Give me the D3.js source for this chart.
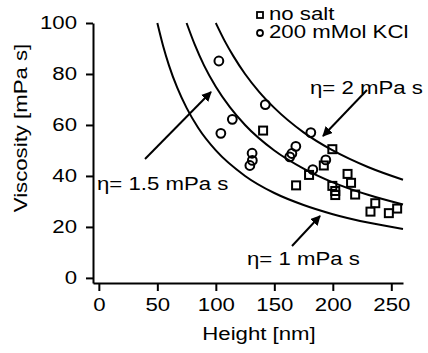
<!DOCTYPE html>
<html>
<head>
<meta charset="utf-8">
<script src="https://cdn.jsdelivr.net/npm/d3@7"></script>
<style>
  body { margin: 0; background: #fff; }
  svg { display: block; font-family: "Liberation Sans", Arial, sans-serif; }
</style>
</head>
<body>
<svg id="chart" width="428" height="353"></svg>
<script>
// measured points: height [nm], viscosity [mPa s]
const noSaltHeight = [140.4, 168.6, 179.7, 199.6, 192.3, 199.6, 202.1, 202.1, 212.6, 215.6, 219.1, 236.3, 232.2, 255.0, 247.9];
const noSaltVisc   = [57.8, 36.3, 40.4, 50.5, 44.1, 36.1, 34.1, 32.5, 40.8, 37.3, 32.7, 29.3, 26.0, 27.2, 25.4];
const kclHeight = [102.6, 142.3, 114.1, 104.3, 131.0, 131.2, 129.1, 168.4, 165.0, 163.2, 181.2, 194.0, 182.9];
const kclVisc   = [85.1, 68.0, 62.2, 56.7, 48.9, 46.1, 44.1, 51.6, 48.8, 47.5, 57.0, 46.3, 42.5];

// reference lines
const eta1Height = [50, 55, 60, 67, 75, 85, 100, 125, 150, 175, 200, 230, 260];
const eta1Visc   = [100, 90.9, 83.3, 74.6, 66.7, 58.8, 50, 40, 33.3, 28.6, 25, 21.7, 19.2];
const eta15Height = [75, 82, 90, 100, 112, 125, 150, 175, 200, 230, 260];
const eta15Visc   = [100, 91.5, 83.3, 75, 67, 60, 50, 42.9, 37.5, 32.6, 28.8];
const eta2Height = [100, 108, 115, 125, 137, 150, 175, 200, 230, 260];
const eta2Visc   = [100, 92.6, 87, 80, 73, 66.7, 57.1, 50, 43.5, 38.5];

const xTicks = [0, 50, 100, 150, 200, 250];
const yTicks = [0, 20, 40, 60, 80, 100];

const FS = 18.5;   // font size
const SX = 1.2;    // the original lettering is a bit wide

const svg = d3.select('#chart');
const x = d3.scaleLinear().domain([-5, 260]).range([93, 403]);
const y = d3.scaleLinear().domain([-2, 100]).range([283, 23]);

const line = d3.line()
  .x(d => x(d[0]))
  .y(d => y(d[1]))
  .curve(d3.curveMonotoneX);

[[eta1Height, eta1Visc], [eta15Height, eta15Visc], [eta2Height, eta2Visc]].forEach(c => {
  svg.append('path')
    .datum(c[0].map((h, i) => [h, c[1][i]]))
    .attr('d', line)
    .attr('fill', 'none')
    .attr('stroke', '#000')
    .attr('stroke-width', 2);
});

// axes
const xAxis = svg.append('g')
  .attr('transform', 'translate(0,283)')
  .call(d3.axisBottom(x).tickValues(xTicks).tickSize(8).tickSizeOuter(0).tickPadding(7));
const yAxis = svg.append('g')
  .attr('transform', 'translate(93,0)')
  .call(d3.axisLeft(y).tickValues(yTicks).tickSize(7).tickSizeOuter(0));
[xAxis, yAxis].forEach(a => {
  a.selectAll('path, line').attr('stroke', '#000').attr('stroke-width', 2);
  a.selectAll('text').attr('font-size', FS).attr('fill', '#000')
    .attr('font-family', '"Liberation Sans", Arial, sans-serif')
    .attr('transform', `scale(${SX},1)`);
});
yAxis.selectAll('text').attr('x', -16 / SX);

function addText(str, tx, ty, anchor, rot) {
  return svg.append('text')
    .attr('transform', `translate(${tx},${ty})` + (rot ? ` rotate(${rot})` : '') + ` scale(${SX},1)`)
    .attr('text-anchor', anchor || 'start')
    .attr('font-size', FS)
    .attr('fill', '#000')
    .text(str);
}

addText('Height [nm]', 259, 340, 'middle');
addText('Viscosity [mPa s]', 27, 128, 'middle', -90);

// data markers
const sq = 8;
svg.append('g').selectAll('rect')
  .data(noSaltHeight.map((h, i) => [h, noSaltVisc[i]]))
  .join('rect')
  .attr('x', d => x(d[0]) - sq / 2)
  .attr('y', d => y(d[1]) - sq / 2)
  .attr('width', sq).attr('height', sq)
  .attr('fill', 'none').attr('stroke', '#000').attr('stroke-width', 2);

svg.append('g').selectAll('circle')
  .data(kclHeight.map((h, i) => [h, kclVisc[i]]))
  .join('circle')
  .attr('cx', d => x(d[0]))
  .attr('cy', d => y(d[1]))
  .attr('r', 4.4)
  .attr('fill', 'none').attr('stroke', '#000').attr('stroke-width', 2);

// legend
svg.append('rect').attr('x', 257).attr('y', 12).attr('width', 6).attr('height', 6)
  .attr('fill', 'none').attr('stroke', '#000').attr('stroke-width', 1.8);
svg.append('circle').attr('cx', 260).attr('cy', 33).attr('r', 3)
  .attr('fill', 'none').attr('stroke', '#000').attr('stroke-width', 1.8);
addText('no salt', 269, 19.5);
addText('200 mMol KCl', 269, 38);

// curve labels with arrows
svg.append('defs').append('marker')
  .attr('id', 'head')
  .attr('viewBox', '0 0 10 10')
  .attr('refX', 9).attr('refY', 5)
  .attr('markerWidth', 5).attr('markerHeight', 5)
  .attr('orient', 'auto')
  .append('path').attr('d', 'M0,0L10,5L0,10z').attr('fill', '#000');

const arrows = [
  [145, 159, 211, 92],
  [367, 90, 323, 136],
  [292, 246, 320, 216]
];
svg.append('g').selectAll('line')
  .data(arrows)
  .join('line')
  .attr('x1', d => d[0]).attr('y1', d => d[1])
  .attr('x2', d => d[2]).attr('y2', d => d[3])
  .attr('stroke', '#000').attr('stroke-width', 2)
  .attr('marker-end', 'url(#head)');

addText('η= 1.5 mPa s', 97, 190);
addText('η= 2 mPa s', 310, 94);
addText('η= 1 mPa s', 247, 265);
</script>
</body>
</html>
